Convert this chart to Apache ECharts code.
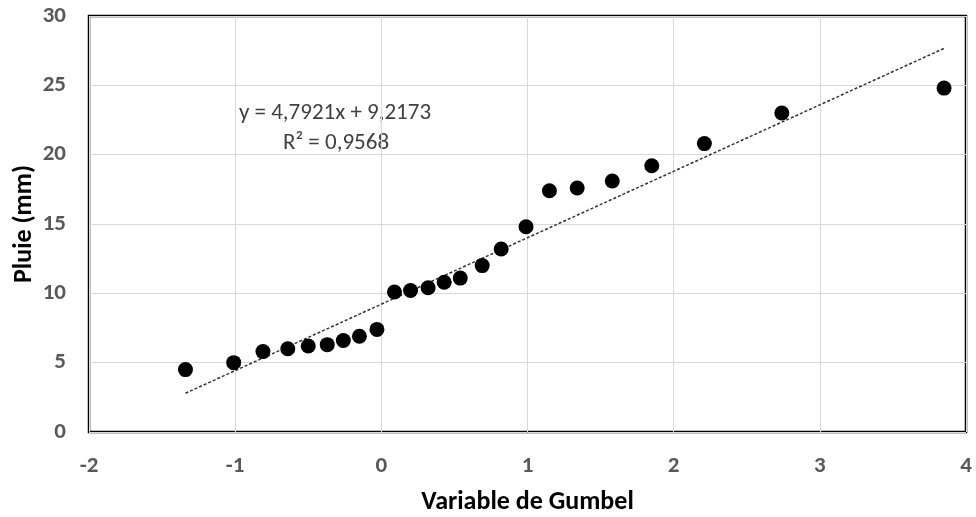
<!DOCTYPE html>
<html>
<head>
<meta charset="utf-8">
<script src="https://cdn.jsdelivr.net/npm/echarts@6/dist/echarts.min.js"></script>
<style>
  html, body { margin: 0; padding: 0; background: #fff; }
  #chart { width: 976px; height: 517px; }
</style>
</head>
<body>
<div id="chart"></div>
<script>
// variable de Gumbel (x) et pluie observée (y, mm)
var gumbelX = [-1.34, -1.01, -0.81, -0.64, -0.50, -0.37, -0.26, -0.15, -0.03,
               0.09, 0.20, 0.32, 0.43, 0.54, 0.69, 0.82, 0.99, 1.15, 1.34,
               1.58, 1.85, 2.21, 2.74, 3.85];
var pluie = [4.5, 5.0, 5.8, 6.0, 6.2, 6.3, 6.6, 6.9, 7.4,
             10.1, 10.2, 10.4, 10.8, 11.1, 12.0, 13.2, 14.8, 17.4, 17.6,
             18.1, 19.2, 20.8, 23.0, 24.8];
// courbe de tendance affichée sur le graphique
var pente = 4.7921;
var ordonnee = 9.2173;
var equationTexte = 'y = 4,7921x + 9,2173';
var r2Texte = 'R² = 0,9568';

var points = [];
for (var i = 0; i < gumbelX.length; i++) {
    points.push([gumbelX[i], pluie[i]]);
}
var xMin = Math.min.apply(null, gumbelX);
var xMax = Math.max.apply(null, gumbelX);
var tendance = [[xMin, pente * xMin + ordonnee], [xMax, pente * xMax + ordonnee]];

var police = 'Carlito, "Liberation Sans", sans-serif';
var myChart = echarts.init(document.getElementById('chart'));
myChart.setOption({
    animation: false,
    grid: {
        left: 89, right: 10, top: 16, bottom: 85,
        outerBoundsMode: 'none',
        show: true,
        borderColor: '#000',
        borderWidth: 2.5
    },
    xAxis: {
        type: 'value',
        min: -2, max: 4, interval: 1,
        name: 'Variable de Gumbel',
        nameLocation: 'middle',
        nameGap: 57,
        nameMoveOverlap: false,
        nameTextStyle: { fontFamily: police, fontSize: 26, fontWeight: 'bold', color: '#000' },
        axisLine: { show: false },
        axisTick: { show: false },
        axisLabel: { margin: 23, fontFamily: police, fontSize: 23, fontWeight: 'bold', color: '#595959' },
        splitLine: { lineStyle: { color: '#d9d9d9', width: 1 } }
    },
    yAxis: {
        type: 'value',
        min: 0, max: 30, interval: 5,
        name: 'Pluie (mm)',
        nameLocation: 'middle',
        nameGap: 52,
        nameMoveOverlap: false,
        nameTextStyle: { fontFamily: police, fontSize: 26, fontWeight: 'bold', color: '#000' },
        axisLine: { show: false },
        axisTick: { show: false },
        axisLabel: { margin: 23, fontFamily: police, fontSize: 23, fontWeight: 'bold', color: '#595959' },
        splitLine: { lineStyle: { color: '#d9d9d9', width: 1 } }
    },
    series: [
        {
            type: 'line',
            data: tendance,
            symbol: 'none',
            lineStyle: { color: '#333', width: 1.5, type: [3, 2] },
            z: 2
        },
        {
            type: 'scatter',
            data: points,
            symbol: 'circle',
            symbolSize: 15,
            itemStyle: { color: '#000', opacity: 1 },
            z: 3
        }
    ],
    graphic: [
        {
            type: 'text', x: 335, y: 113,
            style: { text: equationTexte, fontFamily: police, fontSize: 23, fill: '#404040',
                     align: 'center', verticalAlign: 'middle' }
        },
        {
            type: 'text', x: 336, y: 143,
            style: { text: r2Texte, fontFamily: police, fontSize: 23, fill: '#404040',
                     align: 'center', verticalAlign: 'middle' }
        }
    ]
});
</script>
</body>
</html>
